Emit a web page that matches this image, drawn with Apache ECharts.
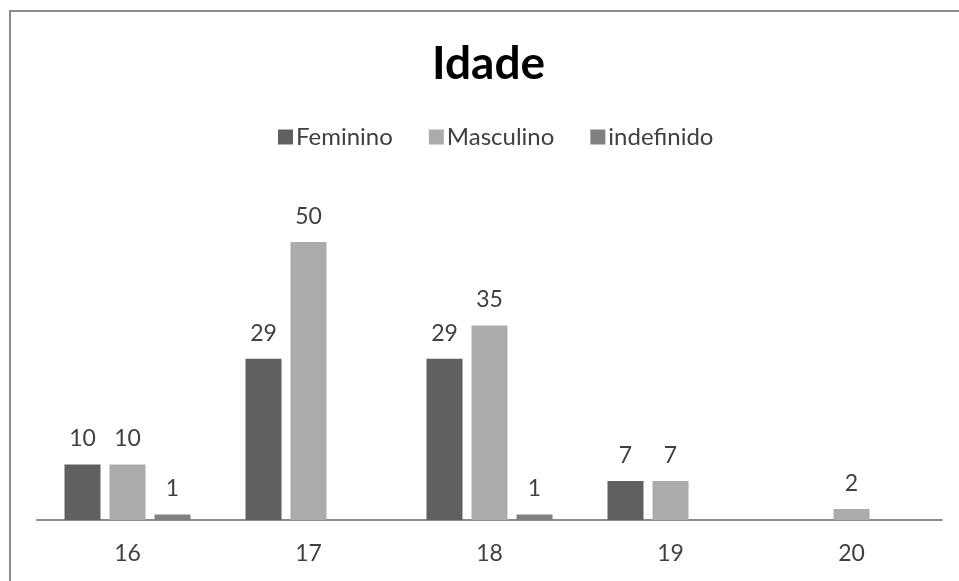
<!DOCTYPE html>
<html>
<head>
<meta charset="utf-8">
<title>Idade</title>
<script src="https://cdn.jsdelivr.net/npm/echarts@6/dist/echarts.min.js"></script>
<style>
  html, body { margin: 0; padding: 0; background: #fff; }
  #chart { width: 959px; height: 581px; }
</style>
</head>
<body>
<div id="chart"></div>
<script>
const idades = ["16", "17", "18", "19", "20"];
const feminino = [10, 29, 29, 7, "-"];
const masculino = [10, 50, 35, 7, 2];
const indefinido = [1, "-", 1, "-", "-"];

const fonte = "Lato, 'Liberation Sans', sans-serif";

// rótulo em cima de cada barra
const rotulo = {
  show: true,
  position: "top",
  distance: 14,
  color: "#404040",
  fontSize: 23,
  fontFamily: fonte,
};

const chart = echarts.init(document.getElementById("chart"));
chart.setOption({
  animation: false,
  title: {
    text: "Idade",
    left: 427,
    top: 36,
    textStyle: { fontSize: 46, fontWeight: "bold", color: "#000", fontFamily: fonte },
  },
  legend: {
    top: 120,
    left: 273,
    icon: "rect",
    itemWidth: 15,
    itemHeight: 15,
    itemGap: 36,
    textStyle: { fontSize: 24, color: "#404040", fontFamily: fonte, padding: [0, 0, 0, -2] },
  },
  grid: { left: 37, right: 17, top: 242, bottom: 61 },
  xAxis: {
    type: "category",
    data: idades,
    axisLine: { lineStyle: { color: "#8c8c8c", width: 2 } },
    axisTick: { show: false },
    axisLabel: { color: "#404040", fontSize: 23, fontFamily: fonte, margin: 22 },
  },
  yAxis: {
    type: "value",
    min: 0,
    max: 50,
    show: false,
    splitLine: { show: false },
  },
  series: [
    { name: "Feminino", type: "bar", data: feminino, barWidth: 36, barGap: "25%",
      itemStyle: { color: "#606060" }, label: rotulo },
    { name: "Masculino", type: "bar", data: masculino, barWidth: 36, barGap: "25%",
      itemStyle: { color: "#ababab" }, label: rotulo },
    { name: "indefinido", type: "bar", data: indefinido, barWidth: 36, barGap: "25%",
      itemStyle: { color: "#808080" }, label: rotulo },
  ],
  graphic: [
    {
      type: "rect",
      silent: true,
      shape: { x: 10, y: 11, width: 1200, height: 1200 },
      style: { fill: null, stroke: "#8c8c8c", lineWidth: 2 },
    },
  ],
});
</script>
</body>
</html>
